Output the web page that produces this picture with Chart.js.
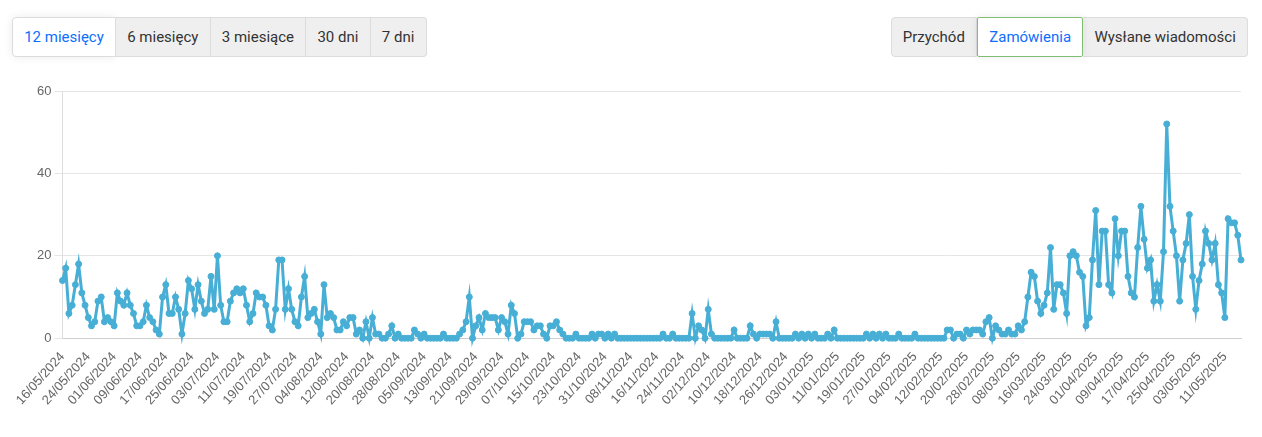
<!DOCTYPE html>
<html lang="pl">
<head>
<meta charset="utf-8">
<script src="https://cdn.jsdelivr.net/npm/chart.js@4.4.1/dist/chart.umd.min.js"></script>
<style>
  html, body { margin: 0; padding: 0; background: #fff; }
  body { width: 1262px; height: 437px; position: relative; overflow: hidden; font-family: Roboto, "Helvetica Neue", Arial, sans-serif; }
  .grp { position: absolute; top: 17px; display: flex; height: 40px; border-radius: 4px; }
  .grp .b { box-sizing: border-box; height: 40px; line-height: 38px; font-size: 15px; color: #333; background: #efefef; border: 1px solid #dcdcdc; border-left-width: 0; padding: 0 11.2px; white-space: nowrap; }
  .grp .b:first-child { border-left-width: 1px; border-radius: 4px 0 0 4px; }
  .grp .b:last-child { border-radius: 0 4px 4px 0; }
  .grp .b.act { background: #fff; color: #0d6efd; }
  #left { left: 12px; }
  #left .b.act { box-shadow: 0 0 10px rgba(0,0,0,0.08); }
  #right { right: 14px; }
  #right .b.act { border: 1.5px solid #7fbd72; border-radius: 2px; box-shadow: 0 0 8px rgba(0,0,0,0.08); position: relative; }
  #wrap { position: absolute; left: 0; top: 75px; width: 1262px; height: 362px; }
</style>
</head>
<body>
<div class="grp" id="left">
  <div class="b act">12 miesięcy</div>
  <div class="b">6 miesięcy</div>
  <div class="b">3 miesiące</div>
  <div class="b">30 dni</div>
  <div class="b">7 dni</div>
</div>
<div class="grp" id="right">
  <div class="b">Przychód</div>
  <div class="b act">Zamówienia</div>
  <div class="b">Wysłane wiadomości</div>
</div>
<div id="wrap"><canvas id="c"></canvas></div>
<script>
// Daily orders ("Zamówienia"), 16/05/2024 – 16/05/2025
const startDate = [2024, 5, 16];   // first category (year, month, day)
const dayCount = 366;
const tickEvery = 8;               // every 8th date is labelled

const may2024 = [14,17,6,8,13,18,11,8,5,3,4,9,10,4,5,4];
const jun2024 = [3,11,9,8,11,8,6,3,3,4,8,5,4,2,1,10,13,6,6,10,7,1,6,14,12,7,13,9,6,7];
const jul2024 = [15,7,20,8,4,4,9,11,12,11,12,8,4,6,11,10,10,8,3,2,7,19,19,7,12,7,4,3,10,15,5];
const aug2024 = [6,7,4,1,13,5,6,5,2,2,4,3,5,5,1,2,0,4,0,5,1,1,0,0,1,3,0,1,0,0,0];
const sep2024 = [0,2,1,0,1,0,0,0,0,0,1,0,0,0,0,1,2,4,10,0,3,5,2,6,5,5,5,2,5,4];
const oct2024 = [1,8,6,0,1,4,4,4,2,3,3,1,0,3,3,4,2,1,0,0,0,1,0,0,0,0,1,0,1,1,0];
const nov2024 = [1,0,1,0,0,0,0,0,0,0,0,0,0,0,0,0,0,1,0,0,1,0,0,0,0,0,6,0,3,2];
const dec2024 = [0,7,1,0,0,0,0,0,0,2,0,0,0,0,3,1,0,1,1,1,1,0,4,0,0,0,0,0,1,0,1];
const jan2025 = [0,1,0,1,0,0,0,1,0,2,0,0,0,0,0,0,0,0,0,1,0,1,0,1,0,1,0,0,0,1,0];
const feb2025 = [0,0,0,1,0,0,0,0,0,0,0,0,0,2,2,0,1,1,0,2,1,2,2,2,1,4,5,0];
const mar2025 = [3,2,1,1,2,1,1,3,2,4,10,16,15,9,6,8,11,22,7,13,13,11,6,20,21,20,16,15,3,5,19];
const apr2025 = [31,13,26,26,13,11,29,20,26,26,15,11,10,22,32,24,17,19,9,13,9,21,52,32,26,20,9,19,23,30];
const may2025 = [15,7,14,18,26,23,19,23,13,11,5,29,28,28,25,19];

const yTicks = [0, 20, 40, 60];

const orders = [].concat(may2024, jun2024, jul2024, aug2024, sep2024, oct2024,
  nov2024, dec2024, jan2025, feb2025, mar2025, apr2025, may2025);

const pad = n => String(n).padStart(2, '0');
const categories = [];
for (let k = 0; k < dayCount; k++) {
  const d = new Date(Date.UTC(startDate[0], startDate[1] - 1, startDate[2] + k));
  categories.push(pad(d.getUTCDate()) + '/' + pad(d.getUTCMonth() + 1) + '/' + d.getUTCFullYear());
}

const lineColor = '#47aed5';
const tickFont = { size: 13, family: "'Helvetica Neue', Helvetica, Arial, sans-serif" };

new Chart(document.getElementById('c'), {
  type: 'line',
  data: {
    labels: categories,
    datasets: [{
      label: 'Zamówienia',
      data: orders,
      borderColor: lineColor,
      backgroundColor: lineColor,
      pointBackgroundColor: lineColor,
      pointBorderColor: lineColor,
      borderWidth: 3,
      pointRadius: 3,
      pointBorderWidth: 1,
      tension: 0,
      fill: false,
      clip: false
    }]
  },
  options: {
    responsive: true,
    maintainAspectRatio: false,
    animation: false,
    layout: { padding: { left: 34, right: 21, top: 16, bottom: 26 } },
    plugins: { legend: { display: false }, tooltip: { enabled: false } },
    scales: {
      x: {
        grid: { display: false },
        border: { display: true, color: '#cfcfcf' },
        ticks: {
          autoSkip: false,
          minRotation: 48,
          maxRotation: 48,
          color: '#666',
          font: tickFont,
          callback: function (value, index) {
            return index % tickEvery === 0 ? categories[index] : null;
          }
        }
      },
      y: {
        min: yTicks[0],
        max: yTicks[yTicks.length - 1],
        afterBuildTicks: axis => { axis.ticks = yTicks.map(v => ({ value: v })); },
        grid: { color: '#e5e5e5' },
        border: { display: true, color: '#dddddd' },
        ticks: {
          color: '#666',
          font: tickFont
        }
      }
    }
  }
});
</script>
</body>
</html>
